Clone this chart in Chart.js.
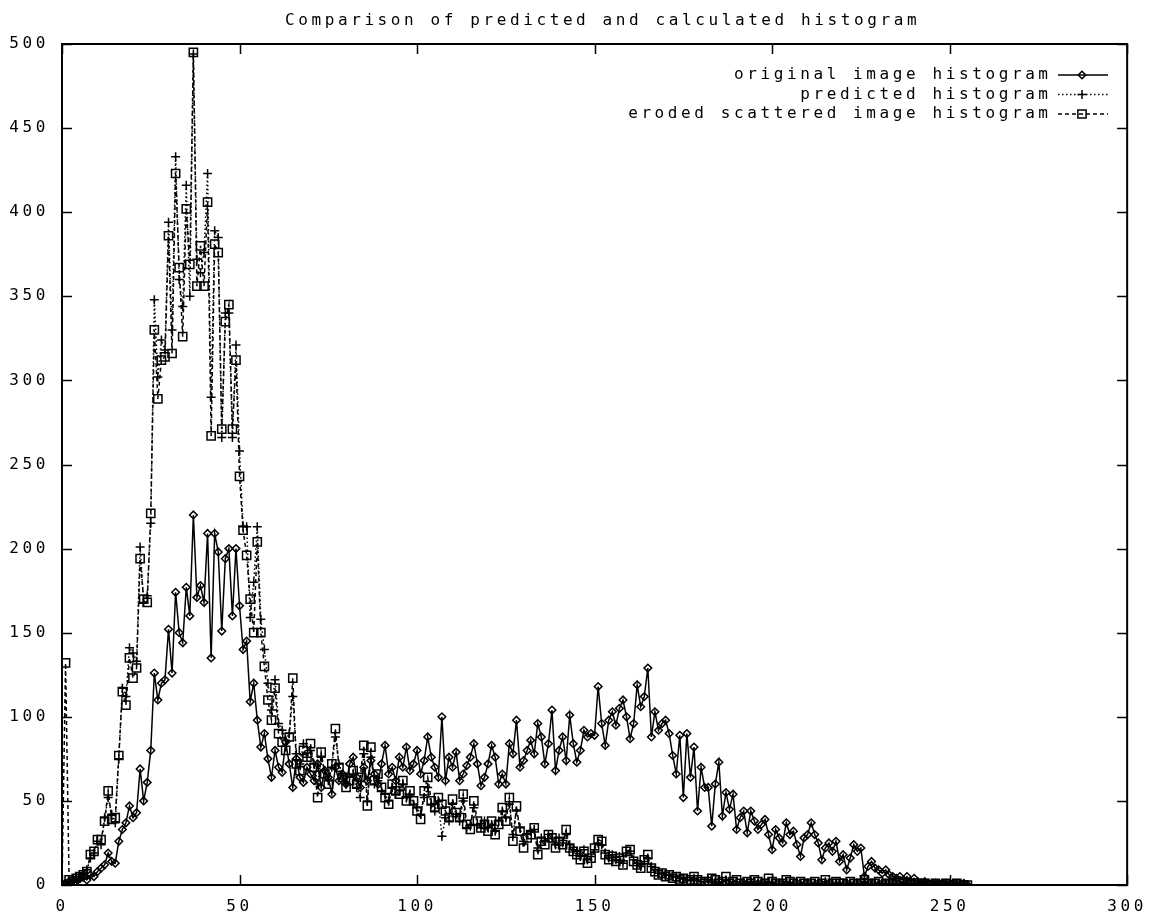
<!DOCTYPE html>
<html>
<head>
<meta charset="utf-8">
<title>Comparison of predicted and calculated histogram</title>
<script src="https://cdn.jsdelivr.net/npm/chart.js"></script>
<style>
  html, body { margin: 0; padding: 0; background: #fff; }
  #wrap { width: 1159px; height: 918px; }
</style>
</head>
<body>
<div id="wrap"><canvas id="histChart" width="1159" height="918"></canvas></div>
<script>
// Chart data
const chartTitle = 'Comparison of predicted and calculated histogram';
const seriesLabels = ['original image histogram', 'predicted histogram', 'eroded scattered image histogram'];
const xTicks = [0, 50, 100, 150, 200, 250, 300];
const yTicks = [0, 50, 100, 150, 200, 250, 300, 350, 400, 450, 500];

// grey levels 0..255
const greyLevels = Array.from({ length: 256 }, (_, i) => i);

const originalHist = [
  0, 1, 2, 3, 2, 4, 5, 3, 6, 5,
  8, 10, 12, 19, 14, 13, 26, 33, 37, 47,
  40, 43, 69, 50, 61, 80, 126, 110, 120, 122,
  152, 126, 174, 150, 144, 177, 160, 220, 171, 178,
  168, 209, 135, 209, 198, 151, 194, 200, 160, 200,
  166, 140, 145, 109, 120, 98, 82, 90, 75, 64,
  80, 70, 67, 85, 72, 58, 75, 64, 61, 70,
  66, 62, 72, 58, 68, 64, 54, 70, 62, 66,
  60, 72, 76, 64, 58, 70, 62, 74, 66, 60,
  72, 83, 66, 70, 62, 76, 70, 82, 68, 72,
  80, 66, 74, 88, 76, 70, 64, 100, 62, 76,
  70, 79, 62, 66, 71, 76, 84, 72, 59, 64,
  72, 83, 76, 60, 66, 60, 84, 78, 98, 70,
  74, 80, 86, 78, 96, 88, 72, 84, 104, 68,
  80, 88, 74, 101, 84, 73, 80, 92, 88, 90,
  89, 118, 96, 83, 98, 103, 95, 105, 110, 100,
  87, 96, 119, 106, 112, 129, 88, 103, 92, 96,
  98, 90, 77, 66, 89, 52, 90, 64, 82, 44,
  70, 58, 58, 35, 60, 73, 41, 55, 45, 54,
  33, 40, 44, 31, 44, 38, 33, 36, 39, 30,
  21, 33, 28, 25, 37, 30, 32, 24, 17, 28,
  30, 37, 30, 25, 15, 22, 25, 20, 26, 14,
  18, 9, 16, 24, 20, 22, 5, 11, 14, 10,
  9, 7, 9, 6, 5, 4, 5, 3, 5, 2,
  4, 2, 1, 2, 1, 0, 1, 0, 1, 0,
  0, 1, 0, 0, 1, 0
];

const predictedHist = [
  0, 1, 2, 3, 5, 4, 7, 9, 16, 19,
  26, 24, 40, 52, 42, 37, 75, 117, 112, 141,
  138, 133, 201, 168, 172, 215, 348, 302, 324, 318,
  394, 330, 433, 360, 344, 416, 350, 494, 372, 364,
  376, 423, 290, 389, 385, 266, 340, 340, 266, 321,
  258, 213, 213, 159, 180, 213, 158, 140, 120, 104,
  122, 96, 92, 86, 90, 112, 78, 72, 84, 76,
  80, 72, 60, 76, 68, 62, 70, 88, 72, 66,
  60, 64, 66, 58, 52, 78, 50, 76, 60, 62,
  56, 54, 50, 58, 54, 56, 60, 52, 54, 48,
  46, 42, 52, 58, 48, 44, 50, 29, 40, 38,
  48, 42, 38, 50, 34, 36, 46, 36, 34, 38,
  34, 36, 32, 38, 44, 40, 48, 30, 44, 34,
  26, 30, 32, 33, 22, 28, 26, 30, 28, 24,
  28, 25, 30, 24, 21, 20, 17, 21, 15, 17,
  21, 25, 24, 19, 16, 18, 15, 17, 13, 19,
  20, 15, 13, 11, 14, 16, 11, 9, 7, 7,
  6, 6, 5, 5, 4, 4, 3, 3, 4, 3,
  2, 2, 3, 3, 2, 1, 2, 3, 1, 2,
  2, 1, 1, 2, 1, 2, 1, 1, 1, 2,
  1, 1, 0, 1, 2, 1, 1, 0, 1, 1,
  0, 1, 1, 0, 1, 2, 0, 1, 1, 1,
  1, 0, 1, 1, 0, 1, 2, 1, 0, 1,
  1, 0, 1, 0, 1, 0, 1, 1, 0, 1,
  0, 1, 0, 1, 0, 0, 1, 0, 0, 1,
  0, 0, 1, 0, 0, 0
];

const erodedHist = [
  0, 132, 3, 2, 4, 5, 6, 8, 18, 20,
  27, 27, 38, 56, 39, 40, 77, 115, 107, 135,
  123, 129, 194, 170, 168, 221, 330, 289, 312, 314,
  386, 316, 423, 367, 326, 402, 369, 495, 356, 380,
  356, 406, 267, 381, 376, 271, 335, 345, 271, 312,
  243, 211, 196, 170, 150, 204, 150, 130, 110, 98,
  117, 90, 85, 80, 88, 123, 72, 68, 80, 76,
  84, 70, 52, 79, 66, 60, 72, 93, 70, 64,
  58, 62, 68, 60, 64, 83, 47, 82, 62, 66,
  58, 52, 48, 60, 56, 54, 62, 50, 56, 50,
  44, 39, 56, 64, 50, 46, 52, 48, 44, 40,
  51, 43, 40, 54, 36, 33, 50, 38, 34, 36,
  32, 38, 30, 36, 46, 38, 52, 26, 47, 32,
  22, 28, 30, 34, 18, 26, 24, 30, 28, 22,
  26, 24, 33, 22, 20, 18, 15, 20, 13, 16,
  22, 27, 26, 18, 15, 17, 14, 16, 12, 20,
  21, 14, 12, 10, 15, 18, 10, 8, 6, 7,
  5, 6, 4, 5, 3, 4, 2, 3, 5, 3,
  2, 1, 2, 4, 3, 1, 2, 5, 1, 2,
  3, 1, 0, 2, 1, 3, 2, 0, 1, 4,
  2, 1, 0, 1, 3, 2, 1, 0, 2, 1,
  0, 1, 2, 0, 1, 3, 0, 1, 2, 1,
  1, 0, 2, 1, 0, 1, 3, 1, 0, 1,
  2, 0, 1, 0, 1, 0, 2, 1, 0, 1,
  0, 1, 0, 1, 0, 0, 1, 0, 0, 1,
  0, 0, 1, 0, 0, 0
];

// look
const FONT = '16px "DejaVu Sans Mono", "Liberation Mono", monospace';
const LETTER_SPACING = '3.6px';
const INK = '#000';

const lineStyles = [
  { dash: [], pointStyle: 'rectRot', radius: 3.8 },
  { dash: [1.5, 2.5], pointStyle: 'cross', radius: 4.5 },
  { dash: [4, 3], pointStyle: 'rect', radius: 5.8 }
];

function toPoints(values) {
  return values.map((v, i) => ({ x: greyLevels[i], y: v }));
}

const allSeries = [originalHist, predictedHist, erodedHist];

const datasets = allSeries.map((vals, i) => ({
  label: seriesLabels[i],
  data: toPoints(vals),
  showLine: true,
  borderColor: INK,
  borderWidth: 1.5,
  borderDash: lineStyles[i].dash,
  pointStyle: lineStyles[i].pointStyle,
  pointRadius: lineStyles[i].radius,
  pointBorderWidth: 1.5,
  pointBorderColor: INK,
  pointBackgroundColor: 'rgba(0,0,0,0)',
  order: 3 - i,
  tension: 0
}));

function drawMarker(ctx, style, x, y, r) {
  ctx.beginPath();
  if (style === 'rectRot') {
    ctx.moveTo(x - r, y); ctx.lineTo(x, y - r); ctx.lineTo(x + r, y); ctx.lineTo(x, y + r); ctx.closePath();
  } else if (style === 'cross') {
    ctx.moveTo(x - r, y); ctx.lineTo(x + r, y); ctx.moveTo(x, y - r); ctx.lineTo(x, y + r);
  } else {
    const s = r * Math.SQRT1_2;
    ctx.rect(x - s, y - s, 2 * s, 2 * s);
  }
  ctx.stroke();
}

// frame, inward ticks, title and gnuplot-like key
const gnuplotFrame = {
  id: 'gnuplotFrame',
  beforeLayout(chart) {
    chart.ctx.letterSpacing = LETTER_SPACING;
  },
  beforeDraw(chart) {
    const ctx = chart.ctx;
    ctx.letterSpacing = LETTER_SPACING;
    ctx.save();
    ctx.fillStyle = '#fff';
    ctx.fillRect(0, 0, chart.width, chart.height);
    ctx.restore();
  },
  afterDraw(chart) {
    const ctx = chart.ctx;
    const a = chart.chartArea;
    const xs = chart.scales.x, ys = chart.scales.y;
    ctx.save();
    ctx.strokeStyle = INK;
    ctx.lineWidth = 2;
    ctx.setLineDash([]);
    ctx.strokeRect(a.left, a.top, a.right - a.left, a.bottom - a.top);
    const tl = 10;
    ctx.lineWidth = 1.5;
    ctx.beginPath();
    xTicks.forEach(v => {
      const px = Math.round(xs.getPixelForValue(v)) + 0.5;
      ctx.moveTo(px, a.bottom); ctx.lineTo(px, a.bottom - tl);
      ctx.moveTo(px, a.top); ctx.lineTo(px, a.top + tl);
    });
    yTicks.forEach(v => {
      const py = Math.round(ys.getPixelForValue(v)) + 0.5;
      ctx.moveTo(a.left, py); ctx.lineTo(a.left + tl, py);
      ctx.moveTo(a.right, py); ctx.lineTo(a.right - tl, py);
    });
    ctx.stroke();

    // title
    ctx.font = FONT;
    ctx.letterSpacing = LETTER_SPACING;
    ctx.fillStyle = INK;
    ctx.textAlign = 'center';
    ctx.textBaseline = 'middle';
    ctx.fillText(chartTitle, (a.left + a.right) / 2 + 8, 21);

    // key
    const textRight = 1048;
    const lineL = 1058, lineR = 1108, markX = 1082;
    chart.data.datasets.forEach((ds, i) => {
      const y = 75 + i * 19.5;
      ctx.textAlign = 'right';
      ctx.fillText(ds.label, textRight + 3.6, y);
      ctx.lineWidth = 1.5;
      ctx.setLineDash(lineStyles[i].dash);
      ctx.beginPath();
      ctx.moveTo(lineL, y); ctx.lineTo(lineR, y);
      ctx.stroke();
      ctx.setLineDash([]);
      drawMarker(ctx, lineStyles[i].pointStyle, markX, y, lineStyles[i].radius);
    });
    ctx.restore();
  }
};

const ctx = document.getElementById('histChart').getContext('2d');
const histChart = new Chart(ctx, {
  type: 'scatter',
  data: { datasets },
  options: {
    responsive: false,
    animation: false,
    devicePixelRatio: 1,
    layout: { padding: { left: 0, right: 26, top: 44, bottom: 0 } },
    plugins: {
      legend: { display: false },
      title: { display: false },
      tooltip: { enabled: false }
    },
    scales: {
      x: {
        type: 'linear',
        min: 0,
        max: 300,
        afterBuildTicks: s => { s.ticks = xTicks.map(v => ({ value: v })); },
        afterFit: s => { s.height = 33; },
        grid: { display: false, drawTicks: false },
        border: { display: false },
        ticks: { color: INK, font: { family: '"DejaVu Sans Mono", monospace', size: 16 }, padding: 12, maxRotation: 0 }
      },
      y: {
        type: 'linear',
        min: 0,
        max: 500,
        afterBuildTicks: s => { s.ticks = yTicks.map(v => ({ value: v })); },
        afterFit: s => { s.width = 62; },
        grid: { display: false, drawTicks: false },
        border: { display: false },
        ticks: { color: INK, font: { family: '"DejaVu Sans Mono", monospace', size: 16 }, padding: 13 }
      }
    }
  },
  plugins: [gnuplotFrame]
});
</script>
</body>
</html>
